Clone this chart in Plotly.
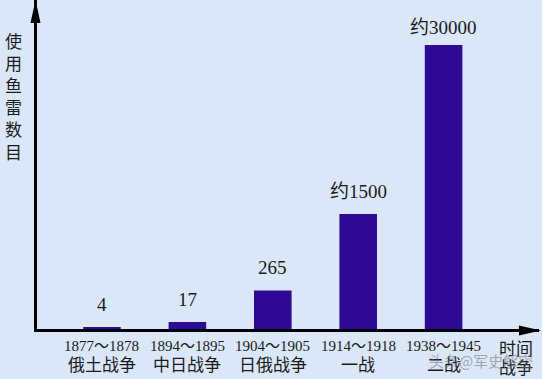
import plotly.graph_objects as go

# ---- data ----
periods = ["1877～1878", "1894～1895", "1904～1905", "1914～1918", "1938～1945"]
wars = ["俄土战争", "中日战争", "日俄战争", "一战", "二战"]
value_labels = ["4", "17", "265", "约1500", "约30000"]
# drawn bar heights (chart has no numeric y scale; relative heights, tallest = 100)
bar_heights = [0.7, 2.5, 13.6, 40.5, 100]
y_title = "使用鱼雷数目"
x_title = ["时间", "战争"]

W, H = 542, 379
ML, MR, MT, MB = 37, 3, 0, 50
PW, PH = W - ML - MR, H - MT - MB

BG = "#d9e7f9"
BAR = "#2e0a94"
TXT = "#1a1a1a"
SERIF = "Liberation Serif, Noto Sans CJK SC, serif"
CJK = "Noto Sans CJK SC, sans-serif"


def px2paper(px, py):
    return (px - ML) / PW, (H - MB - py) / PH


fig = go.Figure()
fig.add_trace(go.Bar(
    x=periods, y=bar_heights, width=0.44,
    marker=dict(color=BAR, line=dict(width=0)),
    hovertext=value_labels, hoverinfo="text",
))

ann = []
for p, w, v, h in zip(periods, wars, value_labels, bar_heights):
    ann.append(dict(x=p, y=h, xref="x", yref="y", text=v, showarrow=False,
                    yanchor="bottom", yshift=10 if h < 90 else 5,
                    font=dict(family=SERIF, size=19, color=TXT)))
    ann.append(dict(x=p, y=0, xref="x", yref="y", text=p, showarrow=False,
                    yanchor="middle", yshift=-17,
                    font=dict(family=SERIF, size=15, color=TXT)))
    ann.append(dict(x=p, y=0, xref="x", yref="y", text=w, showarrow=False,
                    yanchor="middle", yshift=-34,
                    font=dict(family=CJK, size=17, color=TXT)))

# y-axis title (vertical characters)
tx, ty = px2paper(13.5, 95.5)
ann.append(dict(x=tx, y=ty, xref="paper", yref="paper", text="<br>".join(y_title),
                showarrow=False, xanchor="center", yanchor="middle",
                font=dict(family=CJK, size=17, color=TXT)))
# x-axis title
for i, t in enumerate(x_title):
    ax_, ay_ = px2paper(516, 347 + 19 * i)
    ann.append(dict(x=ax_, y=ay_, xref="paper", yref="paper", text=t, showarrow=False,
                    xanchor="center", yanchor="middle",
                    font=dict(family=CJK, size=17, color=TXT)))
# watermark
wx, wy = px2paper(481, 360)
ann.append(dict(x=wx, y=wy, xref="paper", yref="paper", text="头条@军史解密", showarrow=False,
                xanchor="center", yanchor="middle",
                font=dict(family=CJK, size=15, color="rgba(110,110,110,0.55)")))

# arrowheads
def tri(p1, p2, p3):
    pts = [px2paper(*p) for p in (p1, p2, p3)]
    return "M {} {} L {} {} L {} {} Z".format(pts[0][0], pts[0][1], pts[1][0], pts[1][1], pts[2][0], pts[2][1])

shapes = [
    dict(type="path", xref="paper", yref="paper", path=tri((35.5, 0), (30.5, 23), (40.5, 23)),
         fillcolor="black", line=dict(width=0)),
    dict(type="path", xref="paper", yref="paper", path=tri((541, 330.5), (519, 325.5), (519, 335.5)),
         fillcolor="black", line=dict(width=0)),
]

fig.update_layout(
    width=W, height=H,
    margin=dict(l=ML, r=MR, t=MT, b=MB),
    paper_bgcolor=BG, plot_bgcolor=BG,
    showlegend=False,
    annotations=ann, shapes=shapes,
    xaxis=dict(type="category", range=[-0.761, 5.117], showgrid=False, zeroline=False,
               showticklabels=False, ticks="", showline=True, linecolor="black", linewidth=3),
    yaxis=dict(range=[0, 115.85], showgrid=False, zeroline=False, showticklabels=False,
               ticks="", showline=True, linecolor="black", linewidth=3),
)

fig.write_html(
    "out.html",
    config={"displayModeBar": False},
    post_script="document.body.style.margin='0';document.body.style.overflow='hidden';"
                "document.body.style.background='" + BG + "';",
)
